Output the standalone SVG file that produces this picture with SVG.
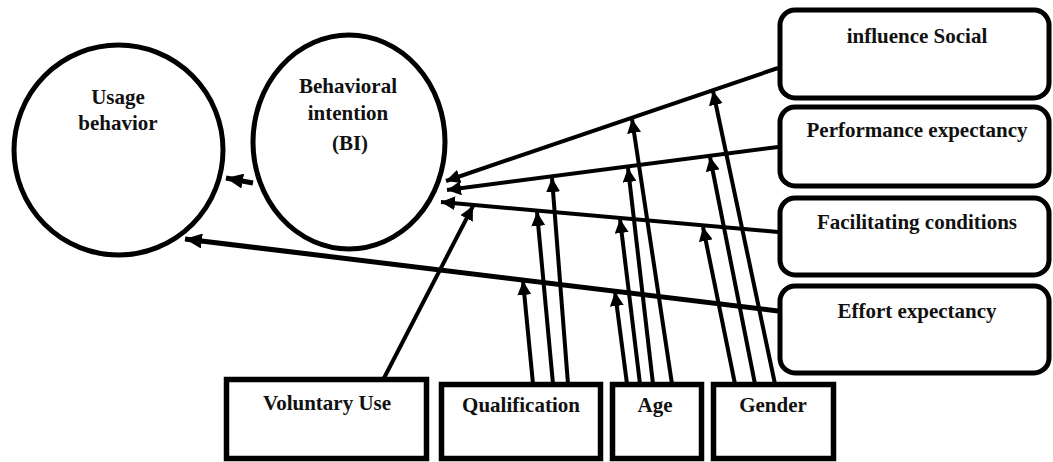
<svg xmlns="http://www.w3.org/2000/svg" width="1053" height="462" viewBox="0 0 1053 462">
<style>
.node{fill:#fff;stroke:#000;stroke-width:5}
.sq{fill:#fff;stroke:#000;stroke-width:5.5}
.t{font-family:"Liberation Serif","Times New Roman",serif;font-weight:bold;font-size:21px;fill:#111;text-anchor:middle}
.c{stroke:#000;stroke-width:4;fill:none;marker-end:url(#ah)}
.cb{stroke:#000;stroke-width:5;fill:none;marker-end:url(#ahb)}
</style>
<defs>
<marker id="ah" markerUnits="userSpaceOnUse" markerWidth="14" markerHeight="14" refX="14" refY="7" orient="auto">
<path d="M0,0 L14,7 L0,14 z" fill="#000"/>
</marker>
<marker id="ahb" markerUnits="userSpaceOnUse" markerWidth="17" markerHeight="15" refX="17" refY="7.5" orient="auto">
<path d="M0,0 L17,7.5 L0,15 z" fill="#000"/>
</marker>
</defs>
<rect width="1053" height="462" fill="#fff"/>
<g id="connectors">
<line class="cb" x1="253" y1="183" x2="226" y2="178"/>
<line class="cb" x1="778" y1="311" x2="185" y2="239"/>
<line class="c" x1="778" y1="68" x2="446" y2="181"/>
<line class="c" x1="778" y1="147" x2="447" y2="190"/>
<line class="c" x1="778" y1="232" x2="441" y2="202"/>
<line class="c" x1="383" y1="380" x2="473" y2="206"/>
<line class="c" x1="533" y1="384" x2="523" y2="281"/>
<line class="c" x1="553" y1="384" x2="537" y2="212"/>
<line class="c" x1="568" y1="384" x2="552" y2="178"/>
<line class="c" x1="627" y1="384" x2="615" y2="292"/>
<line class="c" x1="640" y1="384" x2="620" y2="219"/>
<line class="c" x1="653" y1="384" x2="628" y2="168"/>
<line class="c" x1="672" y1="384" x2="632" y2="119"/>
<line class="c" x1="735" y1="384" x2="703" y2="227"/>
<line class="c" x1="755" y1="384" x2="710" y2="157"/>
<line class="c" x1="775" y1="384" x2="713" y2="91"/>
</g>
<g id="usage">
<ellipse class="node" cx="118.5" cy="150" rx="104.5" ry="105"/>
<text class="t" x="118" y="104">Usage</text>
<text class="t" x="118" y="130">behavior</text>
</g>
<g id="bi">
<ellipse class="node" cx="349" cy="142" rx="96" ry="107"/>
<text class="t" x="348" y="93">Behavioral</text>
<text class="t" x="348" y="120">intention</text>
<text class="t" x="350" y="150">(BI)</text>
</g>
<g id="social">
<rect class="node" x="780" y="10" width="269" height="88" rx="15"/>
<text class="t" x="917" y="43">influence Social</text>
</g>
<g id="performance">
<rect class="node" x="780" y="107" width="269" height="79" rx="15"/>
<text class="t" x="917" y="137">Performance expectancy</text>
</g>
<g id="facilitating">
<rect class="node" x="780" y="198" width="269" height="77" rx="15"/>
<text class="t" x="917" y="229">Facilitating conditions</text>
</g>
<g id="effort">
<rect class="node" x="780" y="286" width="269" height="87" rx="15"/>
<text class="t" x="917" y="318">Effort expectancy</text>
</g>
<g id="voluntary">
<rect class="sq" x="226.5" y="379.5" width="200" height="79"/>
<text class="t" x="327" y="410">Voluntary Use</text>
</g>
<g id="qualification">
<rect class="sq" x="441.5" y="384.5" width="159" height="74"/>
<text class="t" x="521" y="412">Qualification</text>
</g>
<g id="age">
<rect class="sq" x="612.5" y="384.5" width="89" height="74"/>
<text class="t" x="655" y="412">Age</text>
</g>
<g id="gender">
<rect class="sq" x="713.5" y="384.5" width="120" height="74"/>
<text class="t" x="773" y="412">Gender</text>
</g>
</svg>
